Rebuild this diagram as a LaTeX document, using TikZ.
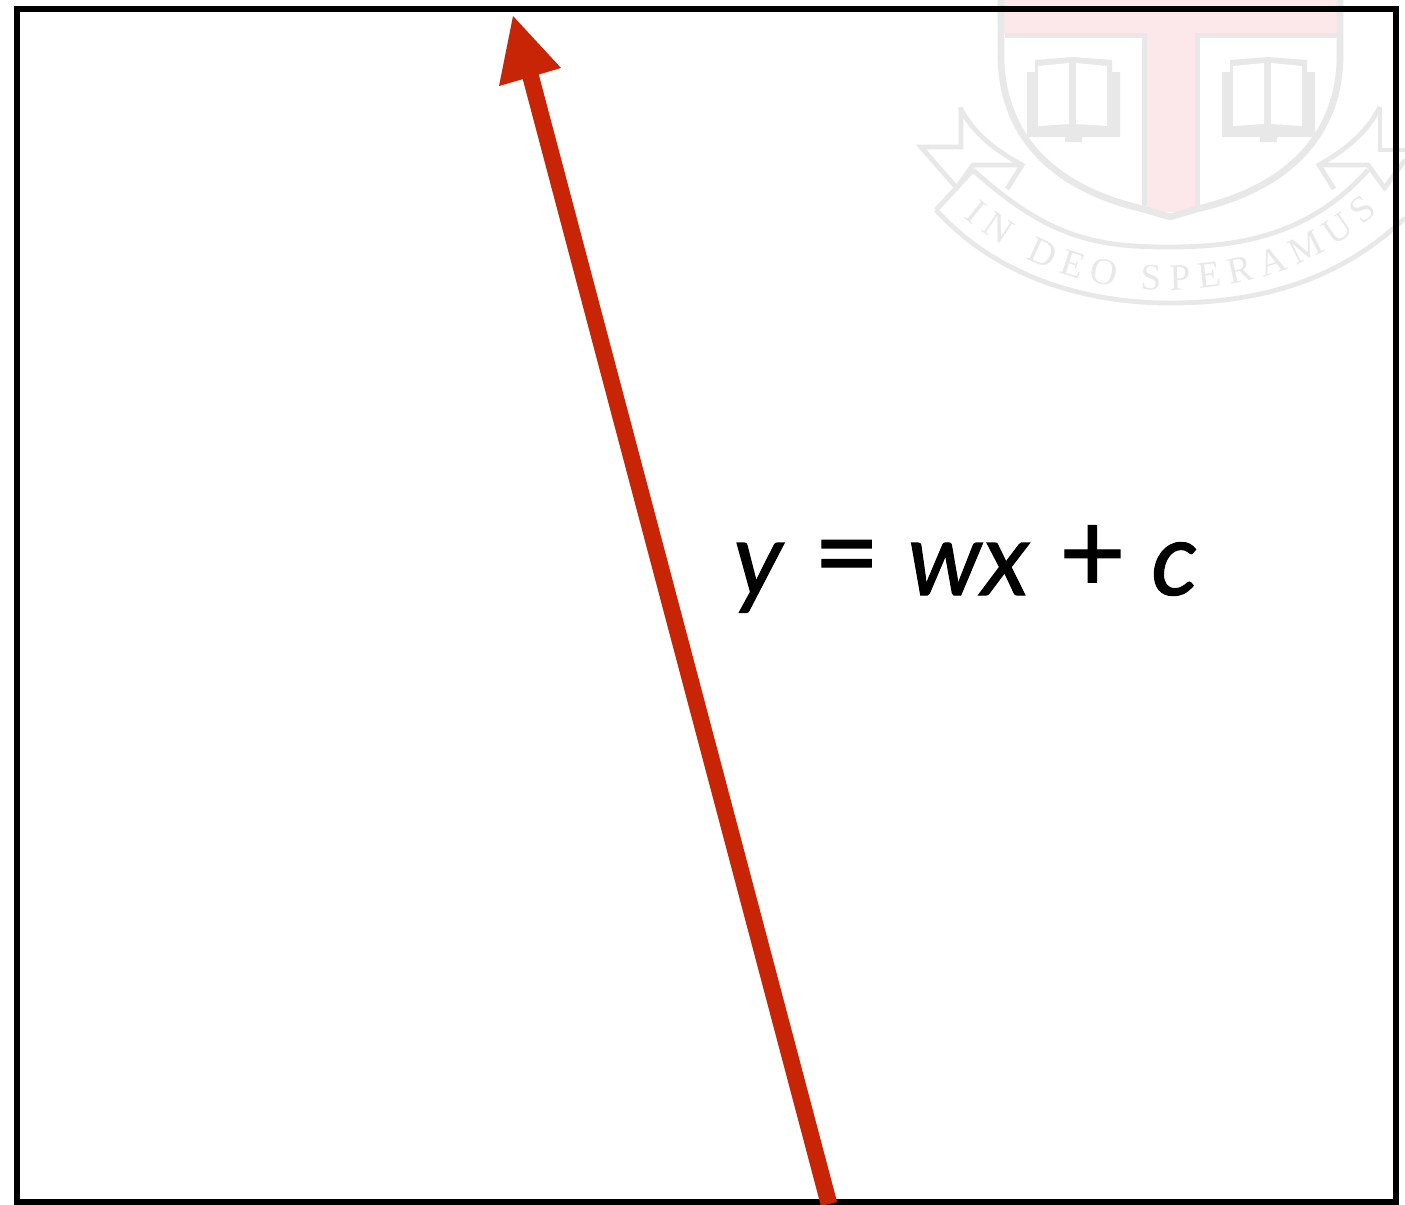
\documentclass[tikz,border=0pt]{standalone}
\usepackage{fontspec}
\setmainfont{Lato}
\newfontfamily\crestfont{Liberation Serif}
\newfontfamily\eqfont[ItalicFeatures={FakeBold=1},UprightFeatures={FakeBold=1}]{Lato}
\usetikzlibrary{decorations.text}
\definecolor{crestgray}{HTML}{E8E8E8}
\definecolor{crestpink}{HTML}{FCE8EA}
\definecolor{arrowred}{HTML}{C82506}
\tikzset{
  crestline/.style={draw=crestgray,line width=3.6pt,line join=miter},
  frameline/.style={draw=black,line width=4pt,line join=miter},
  eqn/.style={inner sep=0pt,anchor=base west,font=\eqfont\fontsize{77}{77}\selectfont\itshape}
}
\newcommand{\openbook}[1]{%
  \begin{scope}[shift={(#1,0)}]
    \fill[crestgray] (1035,60) -- (1073,57) -- (1112,60) -- (1112,72) -- (1120,72) -- (1120,137) -- (1082,137) -- (1082,142) -- (1065,142) -- (1065,137) -- (1027,137) -- (1027,72) -- (1035,72) -- cycle;
    \fill[white] (1038,66) -- (1069,63) -- (1069,124) -- (1038,126) -- cycle;
    \fill[white] (1076,63) -- (1107,66) -- (1107,126) -- (1076,124) -- cycle;
  \end{scope}}
\newcommand{\eqsym}[1]{\raisebox{2pt}{\upshape\fontsize{86}{86}\selectfont #1}}
\begin{document}
\begin{tikzpicture}[x=0.75pt,y=-0.75pt]
\useasboundingbox (0,0) rectangle (1405,1204);
\fill[white] (0,0) rectangle (1405,1204);
\begin{scope}
\clip (0,0) rectangle (1405,1204);
% ribbon tails and main band
\draw[crestline] (960,108) .. controls (975,135) and (995,150) .. (1022,165) -- (1007,189);
\draw[crestline] (1022,165) -- (973,165) -- (955,190);
\draw[crestline] (961,107) -- (961,147) -- (921,147) -- (955,186);
\draw[crestline] (1380,107) .. controls (1365,135) and (1345,150) .. (1319,165) -- (1334,189);
\draw[crestline] (1319,165) -- (1368,165) -- (1386,190);
\draw[crestline] (1380,107) -- (1380,150) -- (1405,150);
\draw[crestline] (1405,160) -- (1386,186);
\draw[crestline] (973,170) .. controls (1050,240) and (1100,247) .. (1170,247) .. controls (1240,247) and (1310,235) .. (1368,170);
\draw[crestline] (936,210) .. controls (1000,280) and (1090,303) .. (1170,303) .. controls (1260,303) and (1340,280) .. (1405,218);
\draw[crestline] (936,210) -- (973,170);
% shield
\fill[crestpink] (1003,0) rectangle (1337,33);
\fill[crestpink] (1147,33) rectangle (1195,212);
\fill[crestgray] (1005,33) rectangle (1147,38);
\fill[crestgray] (1195,33) rectangle (1337,38);
\fill[crestgray] (1142,33) rectangle (1147,206);
\fill[crestgray] (1195,33) rectangle (1200,206);
\draw[draw=crestgray,line width=5pt] (1001,0) -- (1001,60) .. controls (1003,125) and (1040,185) .. (1143,209) -- (1170,217) -- (1197,209) .. controls (1300,185) and (1338,125) .. (1340,60) -- (1340,0);
\openbook{0}
\openbook{195}
% motto
\path[postaction={decorate},decoration={text along path,text align={fit to path},
   text={|\crestfont\fontsize{28}{28}\selectfont\color{crestgray}|IN DEO SPERAMUS}}]
   (964,217) .. controls (1030,272) and (1100,290) .. (1165,290) .. controls (1250,290) and (1320,265) .. (1378,212);
\end{scope}
% frame
\coordinate (tl) at (17,9);
\coordinate (br) at (1396,1202);
\draw[frameline] (tl) rectangle (br);
% arrow
\coordinate (tail) at (829,1204);
\coordinate (neck) at (530,74);
\coordinate (tip) at (513,16);
\coordinate (barbL) at (499,86);
\coordinate (barbR) at (561,68);
\begin{scope}
\clip (0,0) rectangle (1405,1204);
\draw[draw=arrowred,line width=12.5pt] (tail) -- (neck);
\end{scope}
\fill[arrowred] (tip) -- (barbR) -- (barbL) -- cycle;
% equation
\node[eqn] (equation) at (733,595) {y\hspace{0.3em}\eqsym{=}\hspace{0.27em}wx\hspace{0.29em}\eqsym{+}\hspace{0.25em}c};
\end{tikzpicture}
\end{document}
